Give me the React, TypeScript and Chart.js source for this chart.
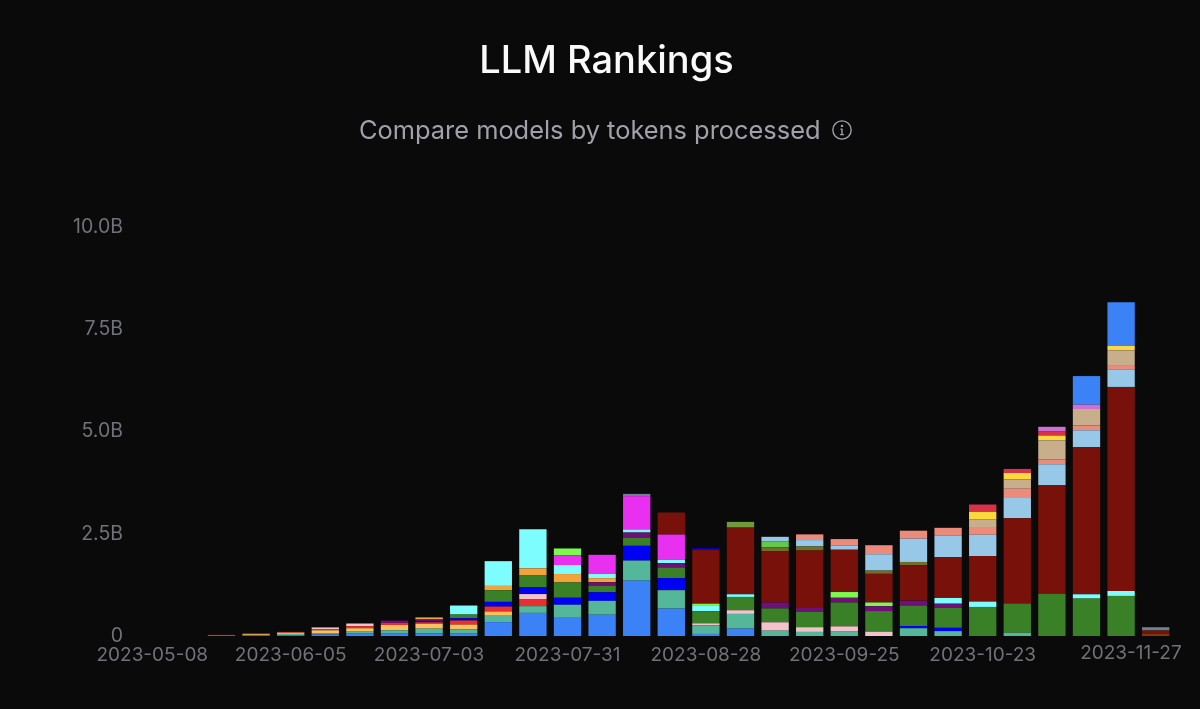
import { useEffect, useRef } from "react";
import Chart from "chart.js/auto";

const weeks = [
  "2023-05-08", "2023-05-15", "2023-05-22", "2023-05-29", "2023-06-05", "2023-06-12",
  "2023-06-19", "2023-06-26", "2023-07-03", "2023-07-10", "2023-07-17", "2023-07-24",
  "2023-07-31", "2023-08-07", "2023-08-14", "2023-08-21", "2023-08-28", "2023-09-04",
  "2023-09-11", "2023-09-18", "2023-09-25", "2023-10-02", "2023-10-09", "2023-10-16",
  "2023-10-23", "2023-10-30", "2023-11-06", "2023-11-13", "2023-11-20", "2023-11-27",
];
const yTicks = [0, 2.5, 5, 7.5, 10];

// token counts per week, in billions (bottom of the stack first)
const blue = [0, 0, 0, 0.015, 0.02, 0.04, 0.07, 0.07, 0.06, 0.07, 0.34, 0.565, 0.465, 0.52, 1.355, 0.67, 0.05, 0.18, 0, 0, 0, 0, 0, 0, 0, 0, 0, 0, 0, 0];
const teal = [0, 0, 0, 0.01, 0.03, 0.03, 0.05, 0.07, 0.12, 0.09, 0.155, 0.165, 0.3, 0.34, 0.49, 0.45, 0.21, 0.36, 0.13, 0.1, 0.12, 0, 0.19, 0.12, 0, 0.08, 0, 0, 0, 0];
const paleOrange = [0, 0, 0.01, 0.02, 0.03, 0.07, 0.07, 0.13, 0.12, 0.12, 0.105, 0, 0, 0, 0, 0, 0, 0, 0, 0, 0, 0, 0, 0, 0, 0, 0, 0, 0, 0];
const red = [0, 0, 0, 0, 0.02, 0.03, 0.05, 0.05, 0.035, 0.1, 0.12, 0.165, 0, 0, 0, 0, 0, 0, 0, 0, 0, 0, 0, 0, 0, 0, 0, 0, 0, 0];
const pink = [0, 0, 0, 0.01, 0, 0.04, 0.065, 0, 0, 0, 0, 0.13, 0, 0, 0, 0, 0.05, 0.09, 0.205, 0.115, 0.115, 0.105, 0, 0, 0, 0, 0, 0, 0, 0];
const pureBlue = [0, 0, 0, 0, 0, 0, 0.01, 0, 0.035, 0.055, 0.115, 0.165, 0.17, 0.21, 0.36, 0.295, 0, 0, 0, 0, 0, 0, 0.055, 0.08, 0, 0, 0, 0, 0, 0];
const green = [0, 0, 0, 0, 0, 0, 0, 0, 0, 0.09, 0.285, 0.3, 0.375, 0.155, 0.195, 0.26, 0.295, 0.325, 0.34, 0.375, 0.585, 0.505, 0.5, 0.49, 0.71, 0.715, 1.035, 0.915, 0.98, 0];
const purple = [0, 0, 0, 0, 0, 0, 0, 0.055, 0.035, 0, 0, 0, 0, 0.09, 0.13, 0.105, 0, 0, 0.145, 0.115, 0.115, 0.12, 0.12, 0.1, 0, 0, 0, 0, 0, 0];
const orange = [0, 0, 0, 0, 0, 0, 0, 0, 0.05, 0, 0.105, 0.165, 0.205, 0.1, 0, 0, 0, 0, 0, 0, 0, 0, 0, 0, 0, 0, 0, 0, 0, 0];
const cyan = [0, 0, 0, 0, 0, 0, 0, 0, 0, 0.22, 0.605, 0.955, 0.22, 0.105, 0.075, 0.08, 0.13, 0.065, 0, 0, 0, 0, 0, 0.14, 0.13, 0, 0, 0.105, 0.12, 0];
const magenta = [0, 0, 0, 0, 0, 0, 0, 0, 0, 0, 0, 0, 0.235, 0.465, 0.815, 0.62, 0, 0, 0, 0, 0, 0, 0, 0, 0, 0, 0, 0, 0, 0];
const lime = [0, 0, 0, 0, 0, 0, 0, 0, 0, 0, 0, 0, 0.17, 0, 0, 0, 0.055, 0, 0, 0, 0.14, 0.09, 0, 0, 0, 0, 0, 0, 0, 0];
const brown = [0, 0, 0, 0, 0, 0, 0, 0, 0, 0, 0, 0, 0, 0, 0, 0, 0, 0, 0, 0, 0, 0, 0, 0, 0, 0, 0, 0, 0, 0.055];
const darkRed = [0, 0, 0.02, 0, 0, 0, 0, 0, 0, 0, 0, 0, 0, 0, 0, 0.54, 1.32, 1.63, 1.25, 1.385, 1.035, 0.7, 0.865, 1.0, 1.115, 2.085, 2.65, 3.6, 4.99, 0.08];
const navy = [0, 0, 0, 0, 0, 0, 0, 0, 0, 0, 0, 0, 0, 0, 0, 0, 0.04, 0, 0, 0, 0, 0, 0, 0, 0, 0, 0, 0, 0, 0];
const oliveGreen = [0, 0, 0, 0, 0, 0, 0, 0, 0, 0, 0, 0, 0, 0, 0, 0, 0, 0.14, 0, 0, 0, 0, 0, 0, 0, 0, 0, 0, 0, 0];
const olive = [0, 0, 0, 0, 0, 0, 0, 0, 0, 0, 0, 0, 0, 0, 0, 0, 0, 0, 0.1, 0.1, 0, 0.08, 0.08, 0, 0, 0, 0, 0, 0, 0];
const lightGreen = [0, 0, 0, 0, 0, 0, 0, 0, 0, 0, 0, 0, 0, 0, 0, 0, 0, 0, 0.14, 0, 0, 0, 0, 0, 0, 0, 0, 0, 0, 0];
const lightBlue = [0, 0, 0, 0, 0, 0, 0, 0, 0, 0, 0, 0, 0, 0, 0, 0, 0, 0, 0.115, 0.155, 0.105, 0.4, 0.57, 0.52, 0.52, 0.515, 0.515, 0.41, 0.43, 0];
const salmon = [0, 0, 0, 0, 0, 0, 0, 0, 0, 0, 0, 0, 0, 0, 0, 0, 0, 0, 0, 0.14, 0.155, 0.22, 0.195, 0.195, 0.19, 0.205, 0.12, 0.12, 0.105, 0];
const tan = [0, 0, 0, 0, 0, 0, 0, 0, 0, 0, 0, 0, 0, 0, 0, 0, 0, 0, 0, 0, 0, 0, 0, 0, 0.19, 0.23, 0.465, 0.4, 0.36, 0];
const yellow = [0, 0, 0, 0, 0, 0, 0, 0, 0, 0, 0, 0, 0, 0, 0, 0, 0, 0, 0, 0, 0, 0, 0, 0, 0.18, 0.155, 0.115, 0, 0.105, 0];
const crimson = [0, 0, 0, 0, 0, 0, 0, 0, 0, 0, 0, 0, 0, 0, 0, 0, 0, 0, 0, 0, 0, 0, 0, 0, 0.18, 0.1, 0.1, 0, 0, 0];
const orchid = [0, 0, 0, 0, 0, 0, 0, 0, 0, 0, 0, 0, 0, 0, 0, 0, 0, 0, 0, 0, 0, 0, 0, 0, 0, 0, 0.115, 0.105, 0, 0];
const blueTop = [0, 0, 0, 0, 0, 0, 0, 0, 0, 0, 0, 0, 0, 0, 0, 0, 0, 0, 0, 0, 0, 0, 0, 0, 0, 0, 0, 0.7, 1.07, 0];
const slate = [0, 0, 0, 0, 0, 0, 0, 0, 0, 0, 0, 0, 0, 0, 0.055, 0, 0, 0, 0, 0, 0, 0, 0, 0, 0, 0, 0, 0, 0, 0.08];

const series: [string, number[], string][] = [
  ["blue", blue, "#3b82f6"],
  ["teal", teal, "#55b79a"],
  ["paleOrange", paleOrange, "#fbbf5c"],
  ["red", red, "#ea2f2f"],
  ["pink", pink, "#f4c2cc"],
  ["pureBlue", pureBlue, "#0000f5"],
  ["green", green, "#3a8026"],
  ["purple", purple, "#6f0f78"],
  ["orange", orange, "#f2a43c"],
  ["cyan", cyan, "#7dfdfd"],
  ["magenta", magenta, "#e92ff0"],
  ["lime", lime, "#7cf94d"],
  ["brown", brown, "#7a3a10"],
  ["darkRed", darkRed, "#781109"],
  ["navy", navy, "#0000c8"],
  ["oliveGreen", oliveGreen, "#6f9a3c"],
  ["olive", olive, "#6f6f2a"],
  ["lightGreen", lightGreen, "#63c94a"],
  ["lightBlue", lightBlue, "#97c8e8"],
  ["salmon", salmon, "#ec8a7c"],
  ["tan", tan, "#c9ae8c"],
  ["yellow", yellow, "#fbd93d"],
  ["crimson", crimson, "#d7324a"],
  ["orchid", orchid, "#cd70cf"],
  ["blueTop", blueTop, "#3b82f6"],
  ["slate", slate, "#6b8090"],
];

const tickColor = "#71717a";
const xFont = { family: "Inter", size: 19 };
const yFont = { family: "Inter", size: 19.5 };

// the last date would run off the canvas if centred, so it is drawn right-aligned
const lastDateLabel = {
  id: "lastDateLabel",
  afterDraw(chart: any) {
    const { ctx, scales } = chart;
    const x = scales.x;
    ctx.save();
    ctx.font = `${xFont.size}px ${xFont.family}`;
    ctx.fillStyle = tickColor;
    ctx.textAlign = "right";
    ctx.textBaseline = "top";
    ctx.fillText(weeks[weeks.length - 1], x.getPixelForTick(weeks.length - 1) + 26, x.top + 8);
    ctx.restore();
  },
};

const App = () => {
  const chartContainer = useRef<any>(null);

  useEffect(() => {
    const chart = new Chart(chartContainer.current.getContext("2d"), {
      type: "bar",
      data: {
        labels: weeks,
        datasets: series.map(([label, data, color]) => ({
          label,
          data,
          backgroundColor: color,
          borderWidth: 0,
          categoryPercentage: 1,
          barPercentage: 0.79,
        })),
      },
      options: {
        responsive: false,
        animation: false,
        layout: { padding: { top: 227, right: 27 } },
        plugins: {
          legend: { display: false },
          title: { display: false },
          tooltip: { enabled: false },
        },
        scales: {
          x: {
            stacked: true,
            border: { display: false },
            grid: { display: false, drawTicks: false },
            afterFit: (scale: any) => {
              scale.height = 73;
            },
            ticks: {
              autoSkip: false,
              maxRotation: 0,
              minRotation: 0,
              padding: 8,
              color: tickColor,
              font: xFont,
              callback: (_v: any, i: number) =>
                i % 4 === 0 && i < weeks.length - 2 ? weeks[i] : "",
            },
          },
          y: {
            stacked: true,
            min: 0,
            max: 10,
            border: { display: false },
            grid: { display: false, drawTicks: false },
            afterFit: (scale: any) => {
              scale.width = 135;
            },
            afterBuildTicks: (scale: any) => {
              scale.ticks = yTicks.map((value) => ({ value }));
            },
            ticks: {
              padding: 12,
              color: tickColor,
              font: yFont,
              callback: (v: any) => (v === 0 ? "0" : `${Number(v).toFixed(1)}B`),
            },
          },
        },
      },
      plugins: [lastDateLabel],
    });

    return () => {
      chart.destroy();
    };
  }, []);

  return (
    <div
      style={{
        position: "fixed",
        left: 0,
        top: 0,
        width: 1200,
        height: 709,
        overflow: "hidden",
        background: "#0a0a0a",
        fontFamily: "Inter",
      }}
    >
      <canvas ref={chartContainer} width={1200} height={709} style={{ position: "absolute", left: 0, top: 0 }} />
      <div
        style={{
          position: "absolute",
          top: 35,
          width: "100%",
          textAlign: "center",
          color: "#fafafa",
          fontSize: 38,
          fontWeight: 500,
          lineHeight: "48px",
          paddingLeft: 13,
          boxSizing: "border-box",
        }}
      >
        LLM Rankings
      </div>
      <div
        style={{
          position: "absolute",
          top: 114,
          left: 359,
          color: "#a1a1aa",
          fontSize: 25.4,
          lineHeight: "32px",
          whiteSpace: "nowrap",
          display: "flex",
          alignItems: "center",
          gap: 11,
        }}
      >
        <span>Compare models by tokens processed</span>
        <svg width="22" height="22" viewBox="0 0 24 24" fill="none" stroke="#a1a1aa" strokeWidth="1.5" strokeLinecap="round">
          <circle cx="12" cy="12" r="10" />
          <path d="M12 11v6M10.5 17h3M10.8 11H12" />
          <circle cx="12" cy="7.5" r="0.6" fill="#a1a1aa" />
        </svg>
      </div>
    </div>
  );
};

export default App;
